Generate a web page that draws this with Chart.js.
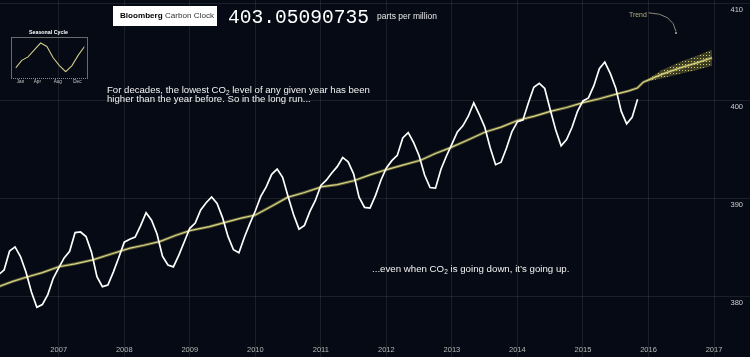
<!DOCTYPE html>
<html><head><meta charset="utf-8">
<script src="https://cdn.jsdelivr.net/npm/chart.js@4.4.0/dist/chart.umd.min.js"></script>
<style>
html,body{margin:0;padding:0;background:#060a14;width:750px;height:357px;overflow:hidden;}
#wrap{position:relative;width:750px;height:357px;}
canvas{position:absolute;display:block;}
.t{position:absolute;white-space:nowrap;line-height:1;font-family:"Liberation Sans",Arial,Helvetica,sans-serif;}
sub{font-size:68%;vertical-align:-0.3em;line-height:0;}
</style></head><body>
<div id="wrap">
<canvas id="main" width="750" height="357" style="left:0;top:0;width:750px;height:357px"></canvas>
<div style="position:absolute;left:11px;top:37px;width:75px;height:40px;border:1px solid #6a6a6a;border-bottom:1px dotted #8c8a6a;"></div>
<canvas id="inset" width="76" height="53" style="left:11px;top:37px;width:76px;height:53px"></canvas>
<div class="t" style="left:29px;top:30px;font-size:5.3px;font-weight:bold;color:#fff;">Seasonal Cycle</div>

<div style="position:absolute;left:113px;top:6px;width:104px;height:20px;background:#fff;"></div>
<div class="t" style="left:120px;top:11.5px;font-size:8.1px;color:#000;"><b>Bloomberg</b> <span style="color:#333">Carbon Clock</span></div>
<div class="t" style="left:228px;top:8.6px;font-size:19.6px;color:#fff;font-family:'Liberation Mono','DejaVu Sans Mono',monospace;">403.05090735</div>
<div class="t" style="left:377px;top:11.8px;font-size:8.5px;color:#e8e8e8;">parts per million</div>

<div class="t" style="left:107px;top:86.4px;font-size:9.6px;line-height:8.8px;color:#f2f2f2;">For decades, the lowest CO<sub>2</sub> level of any given year has been<br>higher than the year before. So in the long run...</div>
<div class="t" style="left:372px;top:264.3px;font-size:9.7px;color:#f2f2f2;">...even when CO<sub>2</sub> is going down, it’s going up.</div>

<div class="t" style="left:629px;top:11.6px;font-size:6.9px;color:#b3b083;">Trend</div>
<svg style="position:absolute;left:0;top:0" width="750" height="357">
  <path d="M648.5,12.8 Q673,13.5 676,31.5" fill="none" stroke="#a9a79a" stroke-width="0.8"/>
  <circle cx="676" cy="33" r="1.1" fill="#a9a79a"/>
</svg>
</div>

<script>
// ---- Data ----
// Monthly CO2 (ppm), first value = Jan 2006, one value per month, last = Nov 2015
const monthlyStart = 2006;
const monthlyCO2 = [
  381.38,382.19,382.67,384.61,385.03,384.05,382.46,380.41,378.85,379.13,380.15,381.82,
  382.89,383.90,384.58,386.50,386.56,386.10,384.50,381.99,380.96,381.12,382.45,383.95,
  385.52,385.82,386.03,387.21,388.54,387.76,386.36,384.09,383.18,382.99,384.19,385.56,
  386.94,387.48,388.82,389.55,390.14,389.48,388.03,386.11,384.74,384.43,386.02,387.42,
  388.71,390.20,391.17,392.46,393.00,392.15,390.20,388.35,386.85,387.24,388.67,389.79,
  391.33,391.86,392.60,393.25,394.19,393.74,392.51,390.13,389.08,389.00,390.28,391.86,
  393.12,393.86,394.40,396.18,396.74,395.71,394.36,392.39,391.11,391.05,392.98,394.34,
  395.55,396.80,397.43,398.41,399.78,398.61,397.32,395.20,393.45,393.70,395.16,396.84,
  397.85,398.01,399.77,401.38,401.78,401.25,399.10,397.03,395.38,396.03,397.28,398.91,
  399.98,400.28,401.54,403.28,403.96,402.80,401.31,398.93,397.63,398.29,400.16
];
// Trend (yellow) line
const trendYears  = [2006.10,2006.30,2006.49,2006.75,2007.00,2007.25,2007.52,2007.80,2008.09,2008.30,2008.55,2008.78,2009.00,2009.30,2009.57,2009.80,2010.00,2010.25,2010.49,2010.75,2011.02,2011.25,2011.50,2011.75,2011.98,2012.25,2012.52,2012.75,2012.98,2013.25,2013.51,2013.75,2014.01,2014.25,2014.50,2014.75,2015.00,2015.25,2015.52,2015.70,2015.83];
const trendValues = [381.0,381.5,381.9,382.4,383.0,383.3,383.7,384.3,384.9,385.2,385.6,386.2,386.7,387.1,387.6,388.0,388.3,389.2,390.1,390.6,391.2,391.4,391.8,392.4,392.9,393.4,393.9,394.6,395.2,396.0,396.8,397.3,398.0,398.4,398.9,399.3,399.8,400.2,400.7,401.0,401.3];
// Trend forecast with band
const forecastYears = [2015.92,2016.20,2016.50,2016.75,2016.97];
const forecastMid   = [401.9,402.7,403.4,403.9,404.4];
const forecastLow   = [401.9,402.3,402.8,403.2,403.6];
const forecastHigh  = [401.9,403.1,404.0,404.6,405.2];
// Axis ticks
const xTickYears = [2007,2008,2009,2010,2011,2012,2013,2014,2015,2016,2017];
const yTickValues = [380,390,400,410];
// Inset: seasonal cycle
const seasonMonths = ['Jan','Feb','Mar','Apr','May','Jun','Jul','Aug','Sep','Oct','Nov','Dec'];
const seasonValues = [-2.4,-0.6,0.2,1.8,3.4,2.6,0.0,-1.8,-3.2,-1.8,0.6,2.6];
const seasonTickPos = [0.8,3.48,6.74,9.86];
const seasonTickLabels = ['Jan','Apr','Aug','Dec'];

// ---- build ----
const pts = (xs, ys) => xs.map((x, i) => ({x: x, y: ys[i]}));
const monthlyPts = monthlyCO2.map((v, i) => ({x: monthlyStart + i / 12, y: v}));
const trendPts = pts(trendYears.concat(forecastYears), trendValues.concat(forecastMid));

function dotPattern() {
  const c = document.createElement('canvas');
  c.width = 3; c.height = 3;
  const g = c.getContext('2d');
  g.fillStyle = 'rgba(185,180,80,0.3)';
  g.fillRect(0, 0, 3, 3);
  g.fillStyle = 'rgba(225,220,115,0.9)';
  g.fillRect(1, 1, 1, 1);
  return document.getElementById('main').getContext('2d').createPattern(c, 'repeat');
}

const FONT = '"Liberation Sans", Arial, Helvetica, sans-serif';
const gridColor = 'rgba(255,255,255,0.085)';

new Chart(document.getElementById('main'), {
  type: 'line',
  data: {
    datasets: [
      {data: monthlyPts, borderColor: '#ffffff', borderWidth: 1.7, pointRadius: 0, tension: 0, order: 0},
      {data: trendPts, borderColor: '#d8d485', borderWidth: 1.2, pointRadius: 0, tension: 0, order: 1},
      {data: trendPts, borderColor: 'rgba(185,180,90,0.45)', borderWidth: 3, pointRadius: 0, tension: 0, order: 2},
      {data: pts(forecastYears, forecastLow), borderColor: 'rgba(200,195,100,0.5)', borderWidth: 0.6, borderDash: [1,1], pointRadius: 0, tension: 0, fill: false, order: 3},
      {data: pts(forecastYears, forecastHigh), borderColor: 'rgba(200,195,100,0.5)', borderWidth: 0.6, borderDash: [1,1], pointRadius: 0, tension: 0, fill: {target: 3}, backgroundColor: dotPattern(), order: 4}
    ]
  },
  options: {
    responsive: false, animation: false, devicePixelRatio: 1,
    layout: {padding: 0},
    plugins: {legend: {display: false}, tooltip: {enabled: false}},
    scales: {
      x: {
        type: 'linear', position: 'bottom', min: 2006.104, max: 2017.549,
        afterBuildTicks: s => { s.ticks = xTickYears.map(v => ({value: v})); },
        afterFit: s => { s.height = 0; },
        grid: {color: gridColor, lineWidth: 1, drawTicks: false},
        border: {display: false},
        ticks: {mirror: true, autoSkip: false, maxRotation: 0, padding: 2.5, color: '#b8b8b8',
                font: {size: 7.5, family: FONT}, callback: v => String(v)}
      },
      y: {
        type: 'linear', position: 'right', min: 373.76, max: 410.31,
        afterBuildTicks: s => { s.ticks = yTickValues.map(v => ({value: v})); },
        afterFit: s => { s.width = 0; },
        grid: {color: gridColor, lineWidth: 1, drawTicks: false},
        border: {display: false},
        ticks: {mirror: true, padding: -7, labelOffset: 6.5, color: '#cfcfcf',
                font: {size: 7.5, family: FONT}, callback: v => String(v)}
      }
    }
  }
});

new Chart(document.getElementById('inset'), {
  type: 'line',
  data: {datasets: [{data: seasonValues.map((v, i) => ({x: i, y: v})), borderColor: '#cfc98a',
    borderWidth: 1.1, pointRadius: 0, tension: 0}]},
  options: {
    responsive: false, animation: false, devicePixelRatio: 1,
    layout: {padding: 0},
    plugins: {legend: {display: false}, tooltip: {enabled: false}},
    scales: {
      x: {type: 'linear', min: 0, max: 11,
        afterBuildTicks: s => { s.ticks = seasonTickPos.map(v => ({value: v})); },
        grid: {display: false, drawTicks: false}, border: {display: false},
        ticks: {autoSkip: false, maxRotation: 0, padding: 6, color: '#c8c8c8',
          font: {size: 4.6, family: FONT},
          callback: (v, i) => seasonTickLabels[i]}},
      y: {display: false, min: -3.4, max: 4.8}
    }
  }
});
</script>
</body></html>
